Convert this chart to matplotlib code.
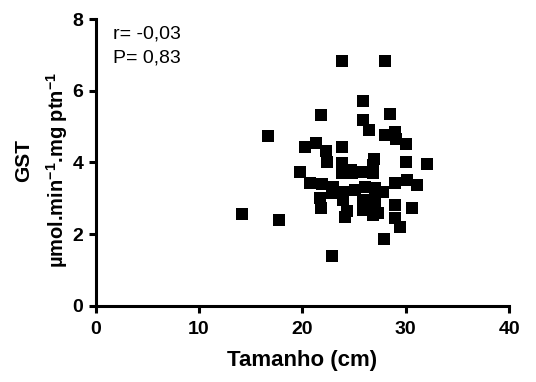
import numpy as np
import matplotlib
matplotlib.use('Agg')
import matplotlib.pyplot as plt

plt.rcParams['font.family'] = ['Liberation Sans', 'DejaVu Sans']
plt.rcParams['mathtext.fontset'] = 'custom'
plt.rcParams['mathtext.rm'] = 'Liberation Sans:bold'
plt.rcParams['mathtext.bf'] = 'Liberation Sans:bold'
plt.rcParams['mathtext.default'] = 'bf'

# tamanho (cm) vs GST activity
tamanho = [23.85, 27.95, 25.88, 21.79, 28.46, 25.88, 16.66, 26.40, 27.98, 28.95,
           29.01, 30.01, 20.21, 21.28, 22.30, 23.85, 22.34, 23.79, 26.92, 30.01,
           32.07, 19.76, 23.79, 24.76, 25.88, 26.85, 20.73, 21.86, 22.98, 23.95,
           25.08, 26.04, 27.01, 27.81, 28.95, 30.08, 31.04, 21.69, 23.95, 25.88,
           27.01, 21.79, 24.27, 25.88, 27.01, 28.95, 30.56, 27.30, 24.11, 28.95,
           29.46, 27.91, 14.12, 17.73, 22.82, 26.85, 22.82, 24.7, 26.8]
gst = [6.83, 6.83, 5.71, 5.32, 5.35, 5.17, 4.75, 4.91, 4.76, 4.86,
       4.65, 4.51, 4.42, 4.55, 4.31, 4.42, 4.02, 3.98, 4.09, 4.02,
       3.95, 3.74, 3.70, 3.70, 3.74, 3.71, 3.42, 3.40, 3.32, 3.18,
       3.23, 3.32, 3.28, 3.18, 3.42, 3.51, 3.37, 3.00, 2.95, 2.95,
       2.95, 2.73, 2.63, 2.67, 2.67, 2.81, 2.72, 2.58, 2.49, 2.45,
       2.21, 1.86, 2.55, 2.39, 1.40, 3.93, 3.15, 3.79, 2.53]

xticks = [0, 10, 20, 30, 40]
yticks = [0, 2, 4, 6, 8]

fig = plt.figure(figsize=(5.36, 3.82), dpi=100)
ax = fig.add_axes([0.1785, 0.1997, 0.7715, 0.7503])

ax.plot(tamanho, gst, 's', color='black', markersize=8.6, markeredgewidth=0)

ax.set_xlim(0, 40)
ax.set_ylim(0, 8)
ax.set_xticks(xticks)
ax.set_yticks(yticks)
for s in ['top', 'right']:
    ax.spines[s].set_visible(False)
for s in ['left', 'bottom']:
    ax.spines[s].set_linewidth(2.2)
ax.tick_params(width=2.2, length=5, labelsize=14)
ax.tick_params(axis='x', pad=6)
ax.tick_params(axis='y', pad=4)
for lab in ax.get_xticklabels() + ax.get_yticklabels():
    lab.set_fontweight('bold')

ax.set_xlabel('Tamanho (cm)', fontsize=16, fontweight='bold', labelpad=9)

fig.text(24 / 536, 1 - 160 / 382, 'GST', rotation=90, fontsize=15,
         fontweight='bold', ha='center', va='center')
fig.text(57 / 536, 1 - 170 / 382, 'µmol.min$^{-1}$.mg ptn$^{-1}$', rotation=90,
         fontsize=14.5, fontweight='bold', ha='center', va='center')

ax.text(113 / 536, 1 - 34 / 382, 'r= -0,03', transform=fig.transFigure,
        fontsize=14, ha='left', va='center')
ax.text(113 / 536, 1 - 58 / 382, 'P= 0,83', transform=fig.transFigure,
        fontsize=14, ha='left', va='center')

fig.savefig('out.png', dpi=100)
